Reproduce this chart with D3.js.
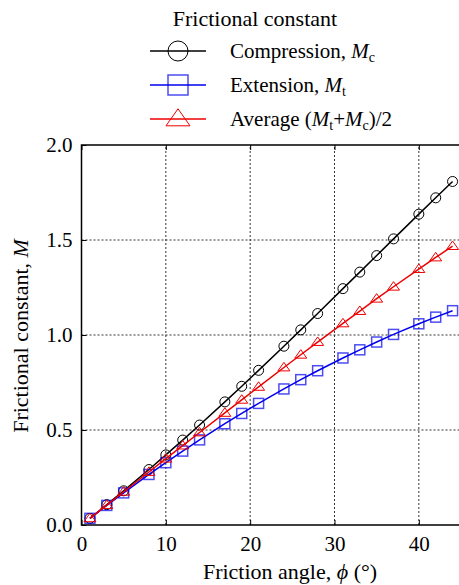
<!DOCTYPE html>
<html>
<head>
<meta charset="utf-8">
<script src="https://cdn.jsdelivr.net/npm/d3@7"></script>
<style>
  body { margin: 0; background: #fff; }
</style>
</head>
<body>
<div id="chart"></div>
<script>
// friction angle (deg)
const phi = [1, 3, 5, 8, 10, 12, 14, 17, 19, 21, 24, 26, 28, 31, 33, 35, 37, 40, 42, 44];
// compression Mc
const mc = [0.035, 0.107, 0.180, 0.292, 0.369, 0.447, 0.526, 0.648, 0.730, 0.814, 0.941, 1.027, 1.113, 1.244, 1.331, 1.418, 1.506, 1.636, 1.722, 1.808];
// extension Mt
const mt = [0.035, 0.103, 0.169, 0.266, 0.328, 0.389, 0.448, 0.533, 0.587, 0.640, 0.716, 0.765, 0.812, 0.879, 0.922, 0.963, 1.003, 1.059, 1.094, 1.128];
// average (Mt+Mc)/2
const mavg = [0.035, 0.105, 0.175, 0.279, 0.349, 0.418, 0.487, 0.590, 0.659, 0.727, 0.829, 0.896, 0.963, 1.061, 1.126, 1.191, 1.254, 1.347, 1.408, 1.468];
const xTicks = [0, 10, 20, 30, 40];
const yTicks = [0, 0.5, 1.0, 1.5, 2.0];

const FONT = "'Liberation Serif', 'Times New Roman', Times, 'DejaVu Serif', serif";
const W = 459, H = 585;
const svg = d3.select('#chart').append('svg')
    .attr('width', W).attr('height', H)
    .style('font-family', FONT);

const x = d3.scaleLinear().domain([0, 45]).range([81.5, 461]);
const y = d3.scaleLinear().domain([0, 2]).range([525, 145]);

// grid
svg.append('g').selectAll('line')
    .data(xTicks.filter(d => d > 0))
    .join('line')
    .attr('x1', d => x(d)).attr('x2', d => x(d))
    .attr('y1', y(0)).attr('y2', y(2))
    .attr('stroke', '#333').attr('stroke-width', 1).attr('stroke-dasharray', '2,2');
svg.append('g').selectAll('line')
    .data(yTicks.filter(d => d > 0 && d < 2))
    .join('line')
    .attr('x1', x(0)).attr('x2', x(45))
    .attr('y1', d => y(d)).attr('y2', d => y(d))
    .attr('stroke', '#333').attr('stroke-width', 1).attr('stroke-dasharray', '2,2');

// frame
svg.append('rect')
    .attr('x', x(0)).attr('y', y(2))
    .attr('width', x(45) - x(0)).attr('height', y(0) - y(2))
    .attr('fill', 'none').attr('stroke', '#000').attr('stroke-width', 1.5);

// axes (inward ticks)
const xAxis = svg.append('g').attr('transform', `translate(0,${y(0)})`)
    .call(d3.axisBottom(x).tickValues(xTicks).tickSize(-5).tickPadding(11).tickFormat(d3.format('d')));
const xTop = svg.append('g').attr('transform', `translate(0,${y(2)})`)
    .call(d3.axisTop(x).tickValues(xTicks).tickSize(-5).tickFormat(''));
const yAxis = svg.append('g').attr('transform', `translate(${x(0)},0)`)
    .call(d3.axisLeft(y).tickValues(yTicks).tickSize(-5).tickPadding(9).tickFormat(d3.format('.1f')));
[xAxis, xTop, yAxis].forEach(g => {
    g.attr('font-family', FONT).attr('font-size', 21);
    g.select('.domain').remove();
    g.selectAll('.tick line').attr('stroke', '#000').attr('stroke-width', 1);
    g.selectAll('.tick text').attr('fill', '#000');
});

// series
const series = [
    {vals: mc, color: '#000', shape: 'circle'},
    {vals: mt, color: '#0000ee', shape: 'square'},
    {vals: mavg, color: '#ee0000', shape: 'triangle'}
];

const line = d3.line().x((d, i) => x(phi[i])).y(d => y(d));

function marker(g, shape, color, s) {
    if (shape === 'circle') {
        g.append('circle').attr('r', s / 2).attr('fill', 'none').attr('stroke', color).attr('stroke-width', 1);
    } else if (shape === 'square') {
        g.append('rect').attr('x', -s / 2).attr('y', -s / 2).attr('width', s).attr('height', s)
            .attr('fill', 'none').attr('stroke', color).attr('stroke-opacity', 0.7).attr('stroke-width', 1.5);
    } else {
        const h = s * 0.85;
        g.append('path').attr('d', `M0,${-h * 0.6}L${s * 0.6},${h * 0.4}L${-s * 0.6},${h * 0.4}Z`)
            .attr('fill', 'none').attr('stroke', color).attr('stroke-width', 1);
    }
}

series.forEach(s => {
    svg.append('path').datum(s.vals)
        .attr('d', line).attr('fill', 'none')
        .attr('stroke', s.color).attr('stroke-width', 1.5);
    s.vals.forEach((v, i) => {
        const g = svg.append('g').attr('transform', `translate(${x(phi[i])},${y(v)})`);
        marker(g, s.shape, s.color, 10);
    });
});

// axis titles
svg.append('text').attr('x', 290).attr('y', 579).attr('text-anchor', 'middle').attr('font-size', 22)
    .call(t => {
        t.append('tspan').text('Friction angle, ');
        t.append('tspan').attr('font-style', 'italic').text('ϕ');
        t.append('tspan').text(' (°)');
    });
svg.append('text').attr('transform', 'translate(28,336) rotate(-90)').attr('text-anchor', 'middle').attr('font-size', 22)
    .call(t => {
        t.append('tspan').text('Frictional constant, ');
        t.append('tspan').attr('font-style', 'italic').text('M');
    });

// legend
svg.append('text').attr('x', 255).attr('y', 26).attr('text-anchor', 'middle').attr('font-size', 22)
    .text('Frictional constant');

const legendRows = [
    {label: 'Compression, ', parts: [['M', 'c']], tail: '', color: '#000', shape: 'circle'},
    {label: 'Extension, ', parts: [['M', 't']], tail: '', color: '#0000ee', shape: 'square'},
    {label: 'Average (', parts: [['M', 't'], ['+', null], ['M', 'c']], tail: ')/2', color: '#ee0000', shape: 'triangle'}
];
legendRows.forEach((r, i) => {
    const cy = 51 + i * 34;
    svg.append('line').attr('x1', 150).attr('x2', 206).attr('y1', cy).attr('y2', cy)
        .attr('stroke', r.color).attr('stroke-width', 1.5);
    const g = svg.append('g').attr('transform', `translate(178,${cy})`);
    marker(g, r.shape, r.color, 20);
    const t = svg.append('text').attr('x', 230).attr('y', cy + 7).attr('font-size', 21);
    t.append('tspan').text(r.label);
    let shifted = false;
    r.parts.forEach(p => {
        if (p[1] === null) {
            t.append('tspan').attr('dy', shifted ? -4 : 0).text(p[0]);
            shifted = false;
        } else {
            t.append('tspan').attr('font-style', 'italic').attr('dy', shifted ? -4 : 0).text(p[0]);
            t.append('tspan').attr('font-size', 14).attr('dy', 4).text(p[1]);
            shifted = true;
        }
    });
    if (r.tail) t.append('tspan').attr('dy', shifted ? -4 : 0).text(r.tail);
});
</script>
</body>
</html>
